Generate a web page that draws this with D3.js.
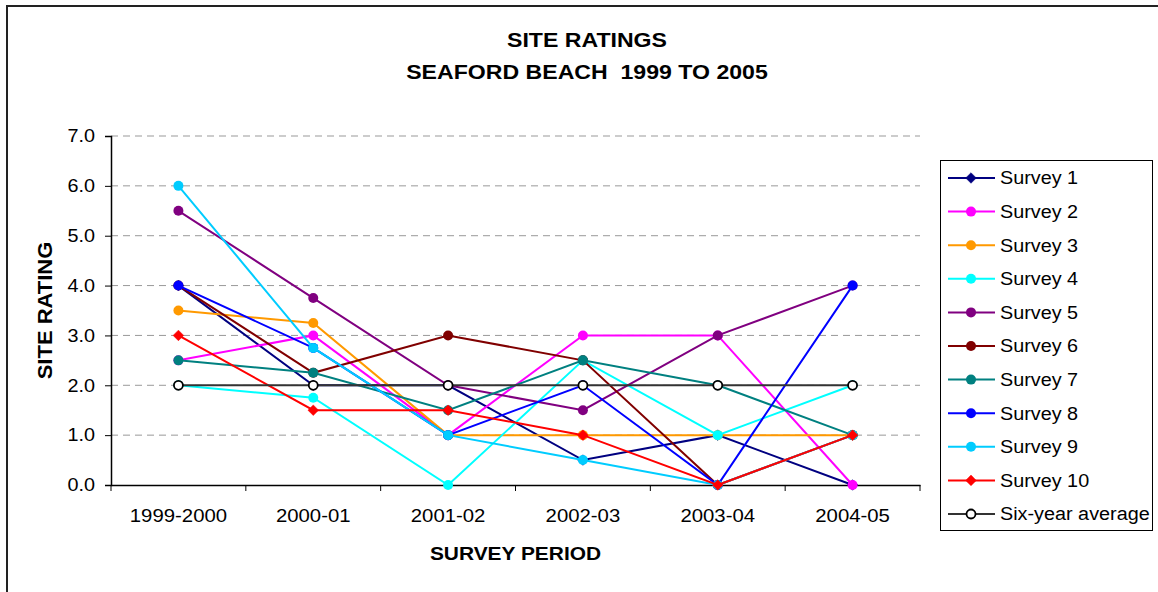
<!DOCTYPE html>
<html>
<head>
<meta charset="utf-8">
<script src="https://cdnjs.cloudflare.com/ajax/libs/d3/7.8.5/d3.min.js"></script>
<style>
  html, body { margin: 0; padding: 0; background: #fff; }
  svg { display: block; font-family: "Liberation Sans", Arial, sans-serif; }
</style>
</head>
<body>
<svg id="chart" width="1158" height="592"></svg>
<script>
// Survey periods and ratings per survey
const categories = ["1999-2000", "2000-01", "2001-02", "2002-03", "2003-04", "2004-05"];
const survey1  = [4.0, 2.0, 2.0, 0.5, 1.0, 0.0];
const survey2  = [2.5, 3.0, 1.0, 3.0, 3.0, 0.0];
const survey3  = [3.5, 3.25, 1.0, 1.0, 1.0, 1.0];
const survey4  = [2.0, 1.75, 0.0, 2.5, 1.0, 2.0];
const survey5  = [5.5, 3.75, 2.0, 1.5, 3.0, 4.0];
const survey6  = [4.0, 2.25, 3.0, 2.5, 0.0, 1.0];
const survey7  = [2.5, 2.25, 1.5, 2.5, 2.0, 1.0];
const survey8  = [4.0, 2.75, 1.0, 2.0, 0.0, 4.0];
const survey9  = [6.0, 2.75, 1.0, 0.5, 0.0, 1.0];
const survey10 = [3.0, 1.5, 1.5, 1.0, 0.0, 1.0];
const sixYearAverage = [2.0, 2.0, 2.0, 2.0, 2.0, 2.0];
const yTicks = [0, 1, 2, 3, 4, 5, 6, 7];

const seriesNames = ["Survey 1", "Survey 2", "Survey 3", "Survey 4", "Survey 5",
  "Survey 6", "Survey 7", "Survey 8", "Survey 9", "Survey 10", "Six-year average"];
const seriesValues = [survey1, survey2, survey3, survey4, survey5, survey6,
  survey7, survey8, survey9, survey10, sixYearAverage];
const seriesColors = ["#000080", "#ff00ff", "#ff9900", "#00ffff", "#800080",
  "#800000", "#008080", "#0000ff", "#00ccff", "#ff0000", "#333333"];
const seriesMarkers = ["diamond", "circle", "circle", "circle", "circle",
  "circle", "circle", "circle", "circle", "diamond", "open"];

const series = seriesNames.map((name, i) => ({
  name, values: seriesValues[i], color: seriesColors[i], marker: seriesMarkers[i]
}));

const svg = d3.select("#chart");
const plot = { left: 111, right: 920, top: 136, bottom: 485 };

// outer chart frame (runs off the right and bottom edges)
svg.append("rect")
  .attr("x", 7).attr("y", 6).attr("width", 1200).attr("height", 640)
  .attr("fill", "none").attr("stroke", "#222").attr("stroke-width", 2);

const x = d3.scaleBand().domain(categories).range([plot.left, plot.right]);
const y = d3.scaleLinear().domain([0, 7]).range([plot.bottom, plot.top]);

// dashed gridlines
svg.append("g").selectAll("line")
  .data(yTicks.filter(d => d > 0))
  .join("line")
  .attr("x1", plot.left).attr("x2", plot.right)
  .attr("y1", d => y(d)).attr("y2", d => y(d))
  .attr("stroke", "#999").attr("stroke-width", 1)
  .attr("stroke-dasharray", "7,5");

// y axis
const yAxis = svg.append("g")
  .attr("transform", `translate(${plot.left},0)`)
  .call(d3.axisLeft(y).tickValues(yTicks).tickFormat(d3.format(".1f")).tickSize(6).tickPadding(10));
yAxis.select(".domain").attr("stroke", "#000").attr("stroke-width", 1.5);
yAxis.selectAll(".tick line").attr("stroke", "#000");
yAxis.selectAll("text").attr("font-size", 18).attr("fill", "#000").attr("font-family", null);

// x axis: labels centred in each category, ticks at category boundaries
const xAxis = svg.append("g")
  .attr("transform", `translate(0,${plot.bottom})`)
  .call(d3.axisBottom(x).tickSize(0).tickPadding(24));
xAxis.select(".domain").attr("stroke", "#000").attr("stroke-width", 1.5);
xAxis.selectAll("text").attr("font-size", 18.5).attr("fill", "#000").attr("font-family", null);
const edges = categories.map(c => x(c)).concat([x(categories[categories.length - 1]) + x.bandwidth()]);
xAxis.append("g").selectAll("line")
  .data(edges)
  .join("line")
  .attr("x1", d => d).attr("x2", d => d)
  .attr("y1", 0).attr("y2", 6)
  .attr("stroke", "#000").attr("stroke-width", 1);

const cx = c => x(c) + x.bandwidth() / 2;
const line = d3.line().x((d, i) => cx(categories[i])).y(d => y(d));
// square diamond: a square symbol turned by 45 degrees
const diamond = d3.symbol().type(d3.symbolSquare).size(56);

function drawMarker(g, s, px, py) {
  if (s.marker === "diamond") {
    g.append("path").attr("d", diamond()).attr("transform", `translate(${px},${py}) rotate(45)`)
      .attr("fill", s.color).attr("stroke", s.color).attr("stroke-width", 0.5);
  } else if (s.marker === "open") {
    g.append("circle").attr("cx", px).attr("cy", py).attr("r", 4.5)
      .attr("fill", "#fff").attr("stroke", "#000").attr("stroke-width", 1.8);
  } else {
    g.append("circle").attr("cx", px).attr("cy", py).attr("r", 5)
      .attr("fill", s.color);
  }
}

// series lines and markers, drawn in order
series.forEach(s => {
  const g = svg.append("g");
  g.append("path").attr("d", line(s.values))
    .attr("fill", "none").attr("stroke", s.color).attr("stroke-width", 2);
  s.values.forEach((v, i) => drawMarker(g, s, cx(categories[i]), y(v)));
});

// legend
const legend = svg.append("g");
legend.append("rect")
  .attr("x", 940.5).attr("y", 160.5).attr("width", 212).attr("height", 370)
  .attr("fill", "#fff").attr("stroke", "#000").attr("stroke-width", 1);
series.forEach((s, i) => {
  const ly = 178 + i * 33.6;
  const g = legend.append("g");
  g.append("line").attr("x1", 948).attr("x2", 995).attr("y1", ly).attr("y2", ly)
    .attr("stroke", s.color).attr("stroke-width", 2);
  drawMarker(g, s, 971, ly);
  g.append("text").attr("x", 1000).attr("y", ly).attr("dy", "0.35em")
    .attr("font-size", 18).attr("fill", "#000").text(s.name);
});

// titles
svg.append("text").attr("x", 587).attr("y", 47).attr("text-anchor", "middle")
  .attr("font-size", 21).attr("font-weight", "bold").text("SITE RATINGS");
svg.append("text").attr("x", 587).attr("y", 79).attr("text-anchor", "middle")
  .attr("font-size", 21).attr("font-weight", "bold").attr("xml:space", "preserve")
  .text("SEAFORD BEACH  1999 TO 2005");
svg.append("text").attr("x", (plot.left + plot.right) / 2).attr("y", 560)
  .attr("text-anchor", "middle").attr("font-size", 19).attr("font-weight", "bold")
  .text("SURVEY PERIOD");
svg.append("text")
  .attr("transform", `translate(52,${(plot.top + plot.bottom) / 2}) rotate(-90)`)
  .attr("text-anchor", "middle").attr("font-size", 20).attr("font-weight", "bold")
  .text("SITE RATING");

// slightly widened lettering
svg.selectAll("text").each(function () {
  const w = this.getComputedTextLength();
  d3.select(this).attr("textLength", w * 1.1).attr("lengthAdjust", "spacingAndGlyphs");
});
</script>
</body>
</html>
